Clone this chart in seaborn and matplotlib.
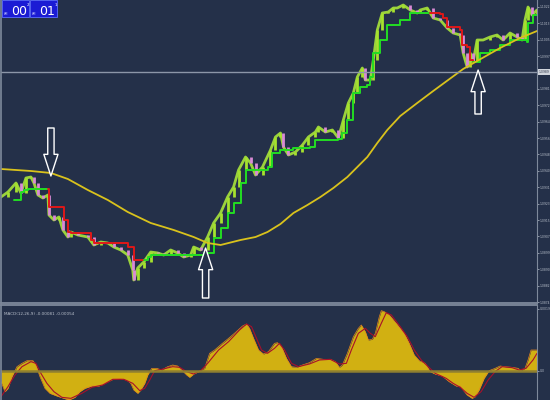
import matplotlib
matplotlib.use("Agg")
import matplotlib.pyplot as plt
import seaborn as sns
from matplotlib.patches import Rectangle
from matplotlib.ticker import FixedLocator, FormatStrFormatter

# ---- price bars (bar position, close) ----
bar_x = [0, 7, 15, 20, 25, 30, 33, 37, 42, 47, 48, 53, 58, 62, 67, 70, 77, 87, 93, 100,
         107, 113, 120, 127, 132, 133, 137, 143, 150, 157, 163, 170, 177, 183, 190, 193,
         200, 207, 213, 220, 227, 233, 238, 245, 250, 255, 262, 270, 275, 280, 283, 288,
         295, 302, 308, 315, 318, 325, 332, 338, 343, 348, 353, 357, 362, 365, 370, 373,
         377, 382, 388, 393, 397, 403, 410, 417, 420, 427, 433, 440, 447, 453, 460, 463,
         467, 470, 473, 477, 483, 490, 497, 503, 510, 517, 522, 525, 528, 532, 537]
bar_close = [1.09265, 1.09290, 1.09335, 1.09285, 1.09360, 1.09365, 1.09335, 1.09275, 1.09260,
             1.09275, 1.09175, 1.09150, 1.09165, 1.09100, 1.09065, 1.09090, 1.09075, 1.09065,
             1.09025, 1.09040, 1.09035, 1.09015, 1.09000, 1.08975, 1.08900, 1.08850, 1.08910,
             1.08940, 1.08990, 1.08985, 1.08975, 1.09000, 1.08985, 1.08965, 1.08975, 1.09015,
             1.09000, 1.09065, 1.09135, 1.09185, 1.09265, 1.09315, 1.09400, 1.09465, 1.09435,
             1.09375, 1.09415, 1.09500, 1.09565, 1.09585, 1.09515, 1.09475, 1.09490, 1.09525,
             1.09565, 1.09590, 1.09615, 1.09590, 1.09600, 1.09560, 1.09650, 1.09735, 1.09785,
             1.09865, 1.09910, 1.09850, 1.09850, 1.09950, 1.10100, 1.10185, 1.10190, 1.10210,
             1.10210, 1.10225, 1.10200, 1.10185, 1.10200, 1.10210, 1.10160, 1.10150, 1.10110,
             1.10085, 1.10075, 1.09985, 1.09915, 1.09985, 1.09940, 1.10050, 1.10050, 1.10065,
             1.10075, 1.10050, 1.10085, 1.10065, 1.10050, 1.10150, 1.10215, 1.10175, 1.10200]

# ---- slow moving average (yellow) ----
ma_x = [0, 30, 50, 67, 87, 107, 127, 150, 173, 193, 207, 220, 240, 255, 267, 280, 293,
        307, 320, 333, 347, 357, 367, 377, 387, 400, 417, 433, 463, 477, 500, 520, 537]
ma_y = [1.09405, 1.09395, 1.09385, 1.09355, 1.09300, 1.09250, 1.09190, 1.09135, 1.09100,
        1.09065, 1.09035, 1.09025, 1.09050, 1.09065, 1.09090, 1.09130, 1.09185, 1.09225,
        1.09265, 1.09310, 1.09365, 1.09415, 1.09465, 1.09535, 1.09600, 1.09670, 1.09735,
        1.09795, 1.09905, 1.09945, 1.10010, 1.10060, 1.10095]

# ---- trailing stop segments ----
up1_x = [13, 20, 23, 27, 47]
up1_y = [1.09250, 1.09290, 1.09300, 1.09305, 1.09305]
dn1_x = [47, 48, 60, 63, 67, 70, 87, 90, 93, 123, 127, 133, 143]
dn1_y = [1.09305, 1.09215, 1.09215, 1.09150, 1.09090, 1.09085, 1.09085, 1.09050, 1.09035,
         1.09035, 1.09015, 1.08950, 1.08950]
up2_x = [143, 147, 150, 200, 203, 210, 213, 220, 227, 233, 240, 245, 263, 267, 272, 280,
         293, 310, 315, 338, 342, 347, 353, 360, 367, 370, 373, 380, 387, 400, 410, 430]
up2_y = [1.08950, 1.08965, 1.08975, 1.08975, 1.08985, 1.08985, 1.09060, 1.09110, 1.09185,
         1.09235, 1.09335, 1.09400, 1.09400, 1.09415, 1.09485, 1.09500, 1.09510, 1.09515,
         1.09550, 1.09555, 1.09585, 1.09650, 1.09785, 1.09815, 1.09825, 1.09865, 1.09985,
         1.10050, 1.10125, 1.10150, 1.10185, 1.10185]
dn2_x = [430, 440, 443, 447, 460, 462, 467, 470, 473]
dn2_y = [1.10185, 1.10180, 1.10160, 1.10115, 1.10100, 1.10025, 1.10015, 1.09950, 1.09940]
up3_x = [473, 480, 490, 500, 510, 527, 528, 533, 537]
up3_y = [1.09940, 1.09985, 1.10000, 1.10025, 1.10050, 1.10040, 1.10135, 1.10175, 1.10175]

level_price = 1.09890

# ---- MACD ----
macd_x = [0, 4, 7, 11, 16, 21, 26, 32, 35, 39, 44, 49, 56, 63, 68, 74, 79, 84, 91, 98,
          105, 112, 119, 126, 130, 133, 137, 140, 144, 147, 151, 156, 161, 167, 172, 177,
          181, 186, 189, 193, 198, 204, 209, 214, 221, 228, 235, 242, 246, 249, 253, 258,
          263, 268, 274, 277, 281, 286, 291, 296, 302, 309, 316, 323, 330, 335, 339, 342,
          347, 353, 358, 361, 365, 368, 372, 375, 379, 381, 384, 389, 396, 404, 409, 414,
          419, 425, 430, 435, 442, 449, 456, 460, 463, 467, 472, 475, 479, 484, 489, 495,
          500, 505, 512, 518, 521, 525, 528, 531, 537]
macd_val = [-0.00032, -0.00062, -0.00052, -0.00017, 0.00013, 0.00023, 0.00031, 0.00031,
            0.00018, -0.00017, -0.00052, -0.00067, -0.00075, -0.00082, -0.00087, -0.00079,
            -0.00062, -0.00052, -0.00045, -0.00045, -0.00035, -0.00025, -0.00023, -0.00027,
            -0.00037, -0.00057, -0.00067, -0.00057, -0.00037, -0.00012, 0.00008, 0.00008,
            0.00003, 0.00013, 0.00018, 0.00015, 0.00003, -0.00012, -0.00019, -0.00009,
            -0.00002, 0.00008, 0.00053, 0.00063, 0.00081, 0.00098, 0.00116, 0.00135, 0.00141,
            0.00128, 0.00098, 0.00063, 0.00051, 0.00058, 0.00083, 0.00085, 0.00073, 0.00038,
            0.00013, 0.00011, 0.00018, 0.00025, 0.00038, 0.00035, 0.00035, 0.00028, 0.00011,
            0.00018, 0.00053, 0.00103, 0.00128, 0.00138, 0.00118, 0.00093, 0.00095, 0.00113,
            0.00163, 0.00181, 0.00178, 0.00168, 0.00143, 0.00113, 0.00083, 0.00048, 0.00031,
            0.00023, -0.00002, -0.00009, -0.00015, -0.00032, -0.00045, -0.00045, -0.00057,
            -0.00072, -0.00082, -0.00077, -0.00057, -0.00022, 0.00001, 0.00008, 0.00015,
            0.00013, 0.00011, 0.00008, 0.00001, 0.00008, 0.00033, 0.00063, 0.00063]
sig_x = [0, 7, 14, 21, 30, 35, 40, 46, 53, 61, 70, 81, 91, 102, 112, 123, 132, 139, 144,
         149, 154, 161, 172, 179, 186, 193, 200, 207, 218, 228, 239, 246, 251, 256, 261,
         267, 274, 279, 284, 291, 298, 309, 319, 330, 339, 346, 351, 358, 365, 370, 375,
         381, 386, 391, 400, 407, 414, 421, 428, 435, 446, 453, 460, 467, 474, 481, 488,
         495, 502, 512, 519, 526, 533, 537]
sig_val = [-0.00077, -0.00047, -0.00012, 0.00013, 0.00028, 0.00023, -0.00007, -0.00037,
           -0.00062, -0.00079, -0.00082, -0.00067, -0.00049, -0.00042, -0.00025, -0.00025,
           -0.00037, -0.00059, -0.00052, -0.00027, 0.00001, 0.00005, 0.00013, 0.00011,
           -0.00002, -0.00009, 0.00001, 0.00023, 0.00063, 0.00088, 0.00123, 0.00141, 0.00133,
           0.00098, 0.00063, 0.00053, 0.00068, 0.00083, 0.00063, 0.00023, 0.00013, 0.00021,
           0.00033, 0.00035, 0.00021, 0.00023, 0.00063, 0.00113, 0.00128, 0.00113, 0.00103,
           0.00143, 0.00175, 0.00168, 0.00133, 0.00103, 0.00063, 0.00033, 0.00013, -0.00007,
           -0.00022, -0.00037, -0.00049, -0.00067, -0.00079, -0.00062, -0.00027, -0.00002,
           0.00013, 0.00010, 0.00003, 0.00008, 0.00033, 0.00053]

bg = "#243049"
grid_col = "#7e899b"
txt_col = "#b9c0cc"

sns.set_theme(style="dark", rc={"axes.facecolor": bg, "figure.facecolor": bg})
plt.rcParams["font.family"] = ["DejaVu Sans"]

fig = plt.figure(figsize=(5.5, 4), dpi=100)
ax = fig.add_axes([1 / 550, 97 / 400, 536 / 550, 303 / 400])
ax2 = fig.add_axes([1 / 550, 0, 536 / 550, 95 / 400])

# ---------- price panel ----------
opens = [bar_close[0]] + bar_close[:-1]
up_col, dn_col = "#a6e22e", "#d98ad6"
cols = [up_col if c >= o else dn_col for o, c in zip(opens, bar_close)]
sns.lineplot(x=bar_x, y=bar_close, ax=ax, color="#9bd23c", lw=2.0, estimator=None)
ax.vlines(bar_x, opens, bar_close, colors=cols, lw=2.0)

for sx, sy, c in [(up1_x, up1_y, "#22dd22"), (dn1_x, dn1_y, "#e01818"),
                  (up2_x, up2_y, "#22dd22"), (dn2_x, dn2_y, "#e01818"),
                  (up3_x, up3_y, "#22dd22")]:
    sns.lineplot(x=sx, y=sy, ax=ax, color=c, lw=1.4, estimator=None,
                 drawstyle="steps-post")

sns.lineplot(x=ma_x, y=ma_y, ax=ax, color="#d9c21c", lw=1.3, estimator=None)
ax.axhline(level_price, color="#8c96a8", lw=1.0)

ax.set_xlim(0, 537)
ax.set_ylim(1.08735, 1.1025)
ax.yaxis.tick_right()
ax.yaxis.set_major_locator(FixedLocator([1.0874 + 0.00082 * i for i in range(19)]))
ax.yaxis.set_major_formatter(FormatStrFormatter("%.4f"))
ax.tick_params(axis="y", labelsize=2.2, colors=txt_col, length=1.5, width=0.5, pad=0.5)
ax.set_xticks([])
ax.set_xlabel("")
ax.set_ylabel("")
ax.grid(False)
ax.spines["top"].set_visible(False)
for s in ["left", "right", "bottom"]:
    ax.spines[s].set_visible(True)
    ax.spines[s].set_color(grid_col)
ax.spines["bottom"].set_linewidth(1.3)
ax.spines["right"].set_linewidth(0.8)
ax.spines["left"].set_linewidth(1.2)

ax.text(1.003, level_price, f"{level_price:.4f}", transform=ax.get_yaxis_transform(),
        fontsize=2.2, color="#2a3346", va="center", ha="left",
        bbox=dict(boxstyle="square,pad=0.2", fc="#d0d4dc", ec="none"))

# hollow arrows
arrow_kw = dict(arrowstyle="simple,head_length=1.3,head_width=0.85,tail_width=0.38",
                fc=bg, ec="white", lw=1.0, shrinkA=0, shrinkB=0)
ax.annotate("", xy=(50, 1.09370), xytext=(50, 1.09610), arrowprops=arrow_kw)
ax.annotate("", xy=(205, 1.09010), xytext=(205, 1.08760), arrowprops=arrow_kw)
ax.annotate("", xy=(478, 1.09900), xytext=(478, 1.09680), arrowprops=arrow_kw)

# blue counters top-left
for bx, big, sup in [(2, "00", "2"), (30, "01", "1")]:
    fig.patches.append(Rectangle((bx / 550, 383 / 400), 27 / 550, 17 / 400,
                                 transform=fig.transFigure, fc="#1b1bd4",
                                 ec="#5d6dff", lw=0.6))
    fig.text((bx + 2) / 550, 385 / 400, "bM", fontsize=2.2, color="#c8ccff")
    fig.text((bx + 9) / 550, 385 / 400, big, fontsize=9, color="white",
             family=["Liberation Sans Narrow", "DejaVu Sans"])
    fig.text((bx + 25) / 550, 394 / 400, sup, fontsize=3.0, color="white")

# ---------- MACD panel ----------
ax2.fill_between(macd_x, macd_val, 0, color="#d1b012", lw=0)
sns.lineplot(x=macd_x, y=macd_val, ax=ax2, color="#e8861a", lw=0.5, estimator=None)
sns.lineplot(x=sig_x, y=sig_val, ax=ax2, color="#a8102a", lw=0.8, estimator=None)
ax2.axhline(0, color="#8f7f30", lw=1.8)

ax2.set_xlim(0, 537)
ax2.set_ylim(-0.00087, 0.00198)
ax2.yaxis.tick_right()
ax2.set_yticks([0, 0.00186])
ax2.set_yticklabels(["0.0", "0.0019"])
ax2.tick_params(axis="y", labelsize=2.2, colors=txt_col, length=1.5, width=0.5, pad=0.5)
ax2.set_xticks([])
ax2.set_xlabel("")
ax2.set_ylabel("")
ax2.grid(False)
ax2.spines["bottom"].set_visible(False)
for s in ["left", "right", "top"]:
    ax2.spines[s].set_visible(True)
    ax2.spines[s].set_color(grid_col)
ax2.spines["top"].set_linewidth(1.3)
ax2.spines["right"].set_linewidth(0.8)
ax2.spines["left"].set_linewidth(1.2)
ax2.text(0.006, 0.93, "MACD(12,26,9) -0.00081 -0.00054", transform=ax2.transAxes,
         fontsize=3, color=txt_col, va="top")

fig.savefig("out.png", dpi=100, facecolor=bg)
